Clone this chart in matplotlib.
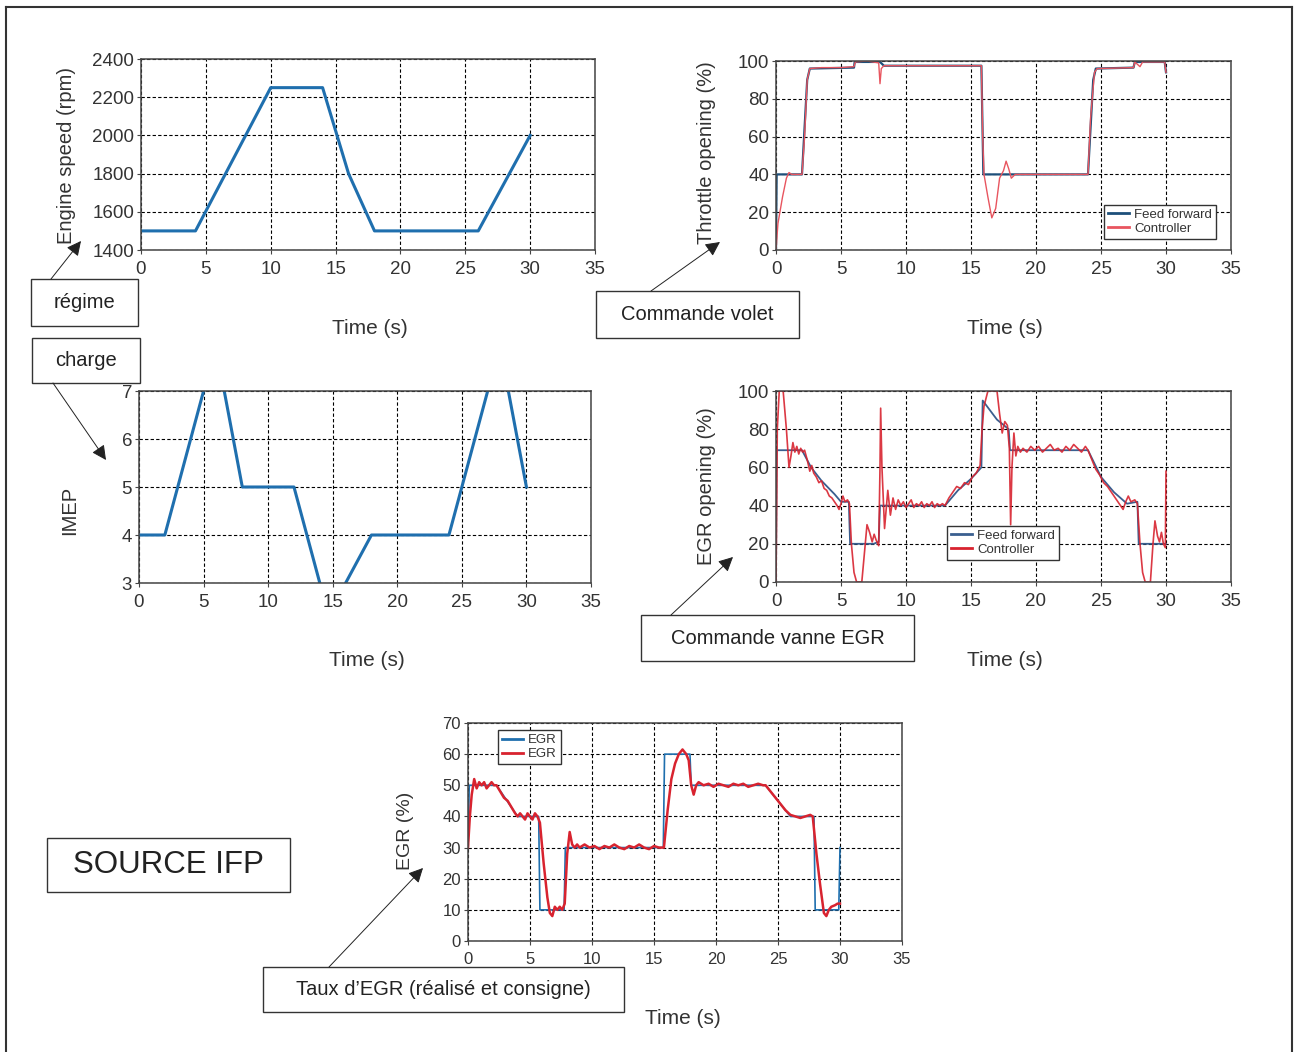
import matplotlib
matplotlib.use("Agg")
import matplotlib.pyplot as plt
from matplotlib.patches import Rectangle, FancyArrowPatch
from matplotlib.lines import Line2D
import numpy as np

plt.rcParams['font.family'] = ['Liberation Sans', 'DejaVu Sans']

W, H = 1294, 1052
BLUE = '#1f6fae'
DARKBLUE = '#1d4f7a'
RED = '#d8232f'
LIGHTRED = '#e8555f'
GREY = '#333333'

TIME_TICKS = [0, 5, 10, 15, 20, 25, 30, 35]

# engine speed (rpm)
speed_t = [0, 4.2, 10, 14, 16, 18, 26, 30]
speed_rpm = [1500, 1500, 2250, 2250, 1800, 1500, 1500, 2000]

# IMEP (nan = out of the plotted range)
imep_t = [0, 2, 5, np.nan, 6.6, 8, 12, 14, np.nan, 16, 18, 24, 27, np.nan, 28.6, 30]
imep_val = [4, 4, 7, np.nan, 7, 5, 5, 3, np.nan, 3, 4, 4, 7, np.nan, 7, 5]

# throttle opening (%)
thr_ff_t = [0, 0.05, 2.0, 2.4, 2.6, 6.0, 6.05, 8.0, 8.3, 15.8, 15.95, 24.0, 24.4, 24.6,
            27.5, 27.6, 29.9, 30.0]
thr_ff = [0, 40, 40, 90, 96, 96.5, 99.5, 99.5, 97.5, 97.5, 40, 40, 90, 96,
          96.5, 99.5, 99.5, 94]
thr_ctl_t = [0, 0.15, 0.3, 0.5, 0.8, 1.0, 1.2, 2.0, 2.2, 2.4, 2.6, 3.5, 5.0, 6.0, 6.1,
             7.0, 7.9, 8.0, 8.1, 8.3, 9, 15.8, 15.9, 16.0, 16.3, 16.6, 16.9, 17.2, 17.5,
             17.7, 17.9, 18.1, 18.4, 19, 24, 24.2, 24.5, 24.7, 27.5, 27.6, 28.0, 28.2,
             29.9, 30.0]
thr_ctl = [0, 14, 20, 28, 38, 41, 40, 40, 60, 90, 96, 96.5, 96.5, 97, 99.5,
           100, 99, 88, 96, 97.5, 97.5, 97.5, 60, 40, 28, 17, 22, 38, 42,
           47, 43, 38, 40, 40, 40, 70, 94, 96, 96.5, 99.5, 97, 99.5,
           99.5, 94]

# EGR valve opening (%)
egr_ff_t = [0, 0.05, 2.0, 2.7, 3.5, 4.5, 5.0, 5.6, 5.7, 7.5, 7.9, 8.0, 13.0, 14.0, 15.0,
            15.8, 15.9, 17.0, 17.9, 18.0, 24.0, 24.5, 25.0, 26.0, 27.0, 27.8, 27.9, 30.0]
egr_ff = [0, 69, 69, 60, 53, 46, 42, 42, 20, 20, 21, 40, 40, 48, 54,
          60, 95, 85, 80, 69, 69, 62, 55, 47, 41, 42, 20, 20]
egr_ctl_t = [0, 0.1, 0.25, 0.55, 0.8, 1.0, 1.15, 1.3, 1.45, 1.6, 1.75, 1.9, 2.05, 2.2,
             2.4, 2.6, 2.75, 2.9, 3.1, 3.3, 3.5, 3.7, 3.9, 4.1, 4.3, 4.5, 4.7, 4.85, 5.0,
             5.15, 5.3, 5.5, 5.65, 5.8, 6.0, 6.2, 6.6, 6.8, 7.0, 7.2, 7.4, 7.55, 7.7, 7.9,
             8.0, 8.05, 8.15, 8.35, 8.6, 8.8, 9.0, 9.2, 9.4, 9.6, 9.8, 10.0, 10.2, 10.4,
             10.6, 10.8, 11.0, 11.2, 11.4, 11.6, 11.8, 12.0, 12.2, 12.4, 12.6, 12.8, 13.0,
             13.3, 13.6, 13.9, 14.2, 14.5, 14.8, 15.1, 15.4, 15.7, 15.85, 16.0, 16.3, 17.0,
             17.2, 17.4, 17.6, 17.8, 17.95, 18.05, 18.15, 18.3, 18.45, 18.6, 18.8, 19.0,
             19.3, 19.6, 19.9, 20.2, 20.5, 20.8, 21.1, 21.4, 21.7, 22.0, 22.3, 22.6, 22.9,
             23.2, 23.5, 23.8, 24.0, 24.3, 24.6, 24.9, 25.2, 25.5, 25.8, 26.1, 26.4, 26.7,
             26.9, 27.1, 27.3, 27.6, 27.8, 28.0, 28.2, 28.4, 28.8, 29.0, 29.15, 29.35, 29.5,
             29.65, 29.8, 29.95, 30.0]
egr_ctl = [0, 80, 100, 100, 80, 60, 66, 73, 68, 71, 67, 70, 68, 69,
           64, 58, 61, 57, 55, 52, 53, 49, 48, 45, 44, 42, 40, 38, 41,
           45, 42, 43, 41, 20, 5, 0, 0, 15, 30, 26, 21, 25, 22, 19,
           60, 91, 60, 28, 48, 35, 44, 38, 43, 40, 42, 39, 41, 43,
           39, 41, 40, 42, 39, 41, 40, 42, 39, 41, 40, 41, 40,
           44, 47, 50, 49, 52, 51, 55, 57, 61, 80, 92, 100, 100,
           88, 78, 84, 82, 70, 30, 60, 78, 66, 71, 68, 70,
           68, 71, 69, 71, 68, 70, 72, 69, 70, 68, 71, 69, 72,
           70, 68, 71, 69, 64, 59, 56, 52, 50, 47, 44, 41, 38,
           42, 45, 42, 43, 41, 20, 5, 0, 0, 20, 32, 24, 21,
           26, 20, 18, 58]

# EGR rate (%) : set point and measured
rate_sp_t = [0, 0.1, 2.3, 4.0, 5.7, 5.8, 7.75, 7.85, 15.75, 15.85, 17.9, 18.0, 24.0, 26.0,
             27.9, 28.0, 29.9, 30.0]
rate_sp = [30, 50, 50, 40, 40, 10, 10, 30, 30, 60, 60, 50, 50, 40,
           40, 10, 10, 30]
rate_meas_t = [0, 0.15, 0.3, 0.5, 0.7, 0.9, 1.1, 1.3, 1.5, 1.7, 1.9, 2.1, 2.3,
               2.6, 2.9, 3.2, 3.5, 3.8, 4.0, 4.2, 4.4, 4.6, 4.8, 5.0, 5.2, 5.4, 5.6, 5.8,
               6.1, 6.4, 6.6, 6.8, 7.0, 7.2, 7.4, 7.6, 7.8,
               8.0, 8.2, 8.4, 8.6, 8.8, 9.0, 9.4, 9.8, 10.2, 10.6, 11.0, 11.4, 11.8, 12.2,
               12.6, 13.0, 13.4, 13.8, 14.2, 14.6, 15.0, 15.4, 15.8,
               16.1, 16.4, 16.7, 17.0, 17.3, 17.6, 17.8, 18.0, 18.2, 18.4, 18.6, 19.0, 19.4,
               19.8, 20.2, 20.6, 21.0, 21.4, 21.8, 22.2, 22.6, 23.0, 23.4, 23.8, 24.0,
               24.4, 24.8, 25.2, 25.6, 26.0, 26.4, 26.8, 27.2, 27.6, 27.8,
               28.1, 28.4, 28.7, 28.9, 29.1, 29.3, 29.6, 29.8, 30.0]
rate_meas = [30, 40, 47, 52, 49, 51, 50, 51, 49, 50, 51, 50, 50,
             48, 46, 45, 43, 41, 40, 41, 40, 39, 41, 40, 39, 41, 40, 38,
             25, 14, 9, 8, 11, 10, 11, 10, 12,
             28, 35, 31, 30, 31, 30, 31, 30, 30.5, 29.5, 30.5, 30, 31, 30,
             29.5, 30.5, 30, 31, 30, 29.5, 30.5, 30, 30,
             42, 52, 57, 60, 61.5, 60, 58, 50, 47, 50, 51, 50, 50.5,
             49.5, 50.5, 50, 49.5, 50.5, 50, 50.5, 49.5, 50, 50.5, 50, 50,
             48, 46, 44, 42, 40.5, 40, 39.5, 40, 40.5, 40,
             28, 18, 9, 8, 10, 11, 11.5, 12, 12]


def frac(x, y):
    return x / W, 1 - y / H


def make_axes(fig, x0, y0, x1, y1, yticks, tick_size=13.5):
    ax = fig.add_axes([x0 / W, 1 - y1 / H, (x1 - x0) / W, (y1 - y0) / H])
    ax.set_xlim(0, 35)
    ax.set_ylim(yticks[0], yticks[-1])
    ax.set_xticks(TIME_TICKS)
    ax.set_yticks(yticks)
    ax.grid(True, color='black', linestyle=(0, (3, 2)), linewidth=0.8)
    ax.tick_params(direction='out', length=3, width=0.8, colors='#444444',
                   labelcolor=GREY, labelsize=tick_size, pad=2)
    ax.tick_params(axis='x', pad=5)
    for s in ax.spines.values():
        s.set_color('#444444')
        s.set_linewidth(1.1)
    return ax


def style_legend(ax, **kw):
    leg = ax.legend(fontsize=9.5, handlelength=1.6, handletextpad=0.4, borderpad=0.3,
                    labelspacing=0.15, borderaxespad=0, fancybox=False, framealpha=1,
                    edgecolor='#333333', **kw)
    for line in leg.get_lines():
        line.set_linewidth(2)
        line.set_alpha(1)
    for t in leg.get_texts():
        t.set_color(GREY)
    return leg


def note(fig, x0, y0, x1, y1, text, size=14.5, arrow=None):
    fig.add_artist(Rectangle(frac(x0, y1), (x1 - x0) / W, (y1 - y0) / H,
                             transform=fig.transFigure, fill=False,
                             edgecolor='#333333', linewidth=1.0))
    cx, cy = frac((x0 + x1) / 2, (y0 + y1) / 2)
    fig.text(cx, cy, text, ha='center', va='center', fontsize=size, color='#222222')
    if arrow is not None:
        (ax0, ay0), (ax1, ay1) = arrow
        fig.add_artist(FancyArrowPatch(frac(ax0, ay0), frac(ax1, ay1),
                                       transform=fig.transFigure, arrowstyle='-|>',
                                       mutation_scale=22, linewidth=0.7,
                                       color='#222222', shrinkA=0, shrinkB=0))


fig = plt.figure(figsize=(W / 100, H / 100), dpi=100)

# outer frame
for xs, ys in [([6, 6], [7, 1052]), ([6, 1292], [7, 7]), ([1292, 1292], [7, 1052])]:
    fig.add_artist(Line2D([x / W for x in xs], [1 - y / H for y in ys],
                          transform=fig.transFigure, color='#333333', linewidth=1.5))

# engine speed
ax1 = make_axes(fig, 141, 59, 595, 250, [1400, 1600, 1800, 2000, 2200, 2400])
ax1.plot(speed_t, speed_rpm, color=BLUE, linewidth=2.2)
fig.text(*frac(67, 155), 'Engine speed (rpm)', rotation=90, ha='center', va='center',
         fontsize=14.5, color=GREY)
fig.text(*frac(370, 329), 'Time (s)', ha='center', va='center', fontsize=15, color=GREY)

# throttle
ax2 = make_axes(fig, 776, 61, 1231, 250, [0, 20, 40, 60, 80, 100])
ax2.plot(thr_ff_t, thr_ff, color=DARKBLUE, linewidth=1.6, label='Feed forward')
ax2.plot(thr_ctl_t, thr_ctl, color=LIGHTRED, linewidth=1.0, label='Controller')
fig.text(*frac(706, 153), 'Throttle opening (%)', rotation=90, ha='center', va='center',
         fontsize=14.5, color=GREY)
fig.text(*frac(1005, 329), 'Time (s)', ha='center', va='center', fontsize=15, color=GREY)
style_legend(ax2, loc='lower right', bbox_to_anchor=(0.967, 0.058))

# IMEP
ax3 = make_axes(fig, 139, 391, 591, 583, [3, 4, 5, 6, 7])
ax3.plot(imep_t, imep_val, color=BLUE, linewidth=2.2)
fig.text(*frac(70, 510), 'IMEP', rotation=90, ha='center', va='center',
         fontsize=14.5, color=GREY)
fig.text(*frac(367, 661), 'Time (s)', ha='center', va='center', fontsize=15, color=GREY)

# EGR opening
ax4 = make_axes(fig, 776, 391, 1231, 582, [0, 20, 40, 60, 80, 100])
ax4.plot(egr_ff_t, egr_ff, color='#3a5f8f', linewidth=1.3, label='Feed forward')
ax4.plot(egr_ctl_t, egr_ctl, color=RED, linewidth=1.2, alpha=0.9, label='Controller')
fig.text(*frac(706, 486), 'EGR opening (%)', rotation=90, ha='center', va='center',
         fontsize=14.5, color=GREY)
fig.text(*frac(1005, 661), 'Time (s)', ha='center', va='center', fontsize=15, color=GREY)
style_legend(ax4, loc='lower left', bbox_to_anchor=(0.376, 0.115))

# EGR rate
ax5 = make_axes(fig, 468, 723, 902, 941, [0, 10, 20, 30, 40, 50, 60, 70], tick_size=12)
ax5.plot(rate_sp_t, rate_sp, color=BLUE, linewidth=1.2, label='EGR')
ax5.plot(rate_meas_t, rate_meas, color=RED, linewidth=1.8, label='EGR')
fig.text(*frac(405, 831), 'EGR (%)', rotation=90, ha='center', va='center',
         fontsize=14, color=GREY)
fig.text(*frac(683, 1019), 'Time (s)', ha='center', va='center', fontsize=15, color=GREY)
style_legend(ax5, loc='upper left', bbox_to_anchor=(0.069, 0.968))

# annotation boxes
note(fig, 31, 279, 138, 326, 'régime', arrow=((51, 279), (81, 241)))
note(fig, 32, 338, 140, 383, 'charge', arrow=((53, 383), (106, 460)))
note(fig, 596, 291, 799, 338, 'Commande volet', arrow=((651, 291), (720, 242)))
note(fig, 641, 615, 914, 661, 'Commande vanne EGR', arrow=((671, 615), (733, 557)))
note(fig, 47, 838, 290, 892, 'SOURCE IFP', size=22.5)
note(fig, 263, 967, 624, 1012, 'Taux d\u2019EGR (réalisé et consigne)',
     arrow=((329, 967), (423, 868)))

fig.savefig('out.png', dpi=100)
